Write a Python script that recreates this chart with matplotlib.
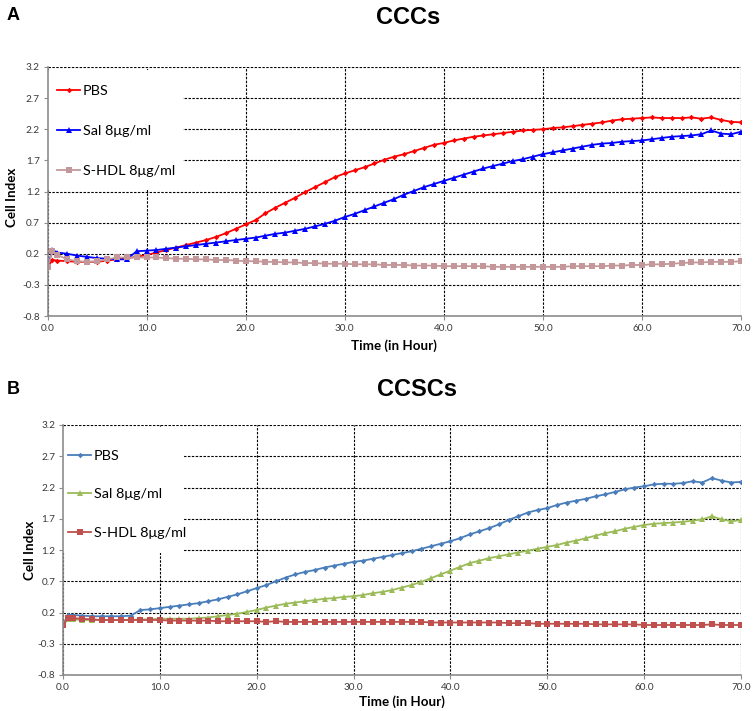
import matplotlib
matplotlib.use("Agg")
import matplotlib.pyplot as plt
from matplotlib.patches import Rectangle

# ---------------- data ----------------
time_h = [0, 0.5] + list(range(1, 71))

xticks = [0, 10, 20, 30, 40, 50, 60, 70]
xtick_labels = ["0.0", "10.0", "20.0", "30.0", "40.0", "50.0", "60.0", "70.0"]
yticks = [-0.8, -0.3, 0.2, 0.7, 1.2, 1.7, 2.2, 2.7, 3.2]
ytick_labels = ["-0.8", "-0.3", "0.2", "0.7", "1.2", "1.7", "2.2", "2.7", "3.2"]

series_labels = ["PBS", "Sal 8μg/ml", "S-HDL 8μg/ml"]

# Panel A : CCCs
ccc_pbs = [-0.02, 0.10,
           0.09, 0.08, 0.07, 0.07, 0.07, 0.09, 0.11, 0.13, 0.15, 0.18,
           0.22, 0.26, 0.30, 0.34, 0.38, 0.42, 0.47, 0.53, 0.60, 0.67,
           0.74, 0.85, 0.94, 1.02, 1.10, 1.19, 1.27, 1.35, 1.43, 1.49,
           1.54, 1.59, 1.65, 1.71, 1.76, 1.80, 1.85, 1.90, 1.95, 1.98,
           2.02, 2.05, 2.08, 2.10, 2.12, 2.14, 2.16, 2.18, 2.19, 2.20,
           2.22, 2.23, 2.25, 2.27, 2.29, 2.31, 2.34, 2.36, 2.37, 2.38,
           2.39, 2.38, 2.38, 2.38, 2.39, 2.37, 2.39, 2.35, 2.32, 2.31]
ccc_sal = [-0.02, 0.26,
           0.22, 0.20, 0.17, 0.15, 0.13, 0.12, 0.11, 0.11, 0.24, 0.25,
           0.26, 0.28, 0.30, 0.32, 0.34, 0.36, 0.38, 0.40, 0.42, 0.44,
           0.46, 0.49, 0.52, 0.54, 0.57, 0.60, 0.64, 0.68, 0.73, 0.79,
           0.84, 0.90, 0.96, 1.02, 1.08, 1.15, 1.21, 1.27, 1.32, 1.37,
           1.42, 1.47, 1.52, 1.57, 1.61, 1.65, 1.69, 1.72, 1.76, 1.80,
           1.83, 1.86, 1.89, 1.92, 1.95, 1.97, 1.98, 2.00, 2.01, 2.02,
           2.04, 2.06, 2.08, 2.09, 2.10, 2.12, 2.18, 2.13, 2.12, 2.16]
ccc_shdl = [-0.02, 0.24,
            0.18, 0.11, 0.08, 0.07, 0.08, 0.11, 0.14, 0.14, 0.14, 0.14,
            0.14, 0.13, 0.12, 0.12, 0.11, 0.11, 0.10, 0.10, 0.09, 0.08,
            0.08, 0.07, 0.07, 0.06, 0.06, 0.05, 0.05, 0.04, 0.04, 0.04,
            0.03, 0.03, 0.03, 0.02, 0.02, 0.02, 0.01, 0.01, 0.01, 0.00,
            0.00, 0.00, 0.00, 0.00, -0.01, -0.01, -0.01, -0.01, -0.01, -0.01,
            -0.01, -0.01, 0.00, 0.00, 0.00, 0.00, 0.01, 0.01, 0.02, 0.02,
            0.03, 0.03, 0.04, 0.05, 0.06, 0.06, 0.07, 0.07, 0.07, 0.08]

# Panel B : CCSCs
ccsc_pbs = [0.00, 0.16,
            0.16, 0.15, 0.14, 0.14, 0.14, 0.14, 0.15, 0.24, 0.25, 0.27,
            0.29, 0.31, 0.33, 0.35, 0.38, 0.41, 0.45, 0.49, 0.54, 0.59,
            0.64, 0.70, 0.76, 0.81, 0.85, 0.88, 0.92, 0.95, 0.98, 1.01,
            1.03, 1.06, 1.09, 1.12, 1.15, 1.18, 1.22, 1.26, 1.30, 1.34,
            1.39, 1.45, 1.50, 1.55, 1.61, 1.68, 1.74, 1.80, 1.84, 1.87,
            1.92, 1.96, 1.99, 2.02, 2.06, 2.09, 2.13, 2.17, 2.20, 2.22,
            2.25, 2.26, 2.26, 2.27, 2.30, 2.28, 2.35, 2.31, 2.28, 2.29]
ccsc_sal = [0.00, 0.09,
            0.09, 0.08, 0.08, 0.08, 0.08, 0.08, 0.08, 0.09, 0.09, 0.10,
            0.10, 0.10, 0.10, 0.11, 0.12, 0.14, 0.16, 0.18, 0.21, 0.24,
            0.28, 0.31, 0.34, 0.36, 0.38, 0.40, 0.42, 0.43, 0.45, 0.46,
            0.48, 0.51, 0.53, 0.56, 0.60, 0.64, 0.69, 0.75, 0.81, 0.87,
            0.93, 0.99, 1.03, 1.07, 1.10, 1.13, 1.16, 1.19, 1.22, 1.25,
            1.28, 1.32, 1.35, 1.39, 1.43, 1.47, 1.50, 1.54, 1.57, 1.60,
            1.62, 1.63, 1.64, 1.65, 1.67, 1.69, 1.74, 1.69, 1.66, 1.68]
ccsc_shdl = [0.00, 0.11,
             0.11, 0.10, 0.09, 0.08, 0.08, 0.08, 0.08, 0.08, 0.08, 0.08,
             0.07, 0.07, 0.07, 0.07, 0.07, 0.06, 0.06, 0.06, 0.06, 0.06,
             0.05, 0.06, 0.05, 0.05, 0.05, 0.05, 0.05, 0.05, 0.05, 0.05,
             0.05, 0.05, 0.05, 0.05, 0.05, 0.05, 0.05, 0.04, 0.04, 0.04,
             0.04, 0.04, 0.04, 0.04, 0.04, 0.03, 0.03, 0.03, 0.02, 0.02,
             0.02, 0.02, 0.02, 0.02, 0.01, 0.01, 0.01, 0.01, 0.01, 0.00,
             0.00, 0.00, 0.00, 0.00, 0.00, 0.00, 0.01, 0.00, 0.00, 0.00]

# ---------------- figure ----------------
W, H = 753, 711
fig = plt.figure(figsize=(W / 100, H / 100), dpi=100)

sans = ["Lato", "DejaVu Sans"]
bold_title = ["Liberation Sans", "DejaVu Sans"]


def px_axes(left, top, right, bottom):
    return [left / W, 1 - bottom / H, (right - left) / W, (bottom - top) / H]


axA = fig.add_axes(px_axes(47.5, 67, 741, 316))
axB = fig.add_axes(px_axes(63, 425, 741, 675))


def style(ax, rect_w, rect_y0):
    ax.set_xlim(0, 70)
    ax.set_ylim(-0.8, 3.2)
    ax.set_xticks(xticks)
    ax.set_xticklabels(xtick_labels, family=sans)
    ax.set_yticks(yticks)
    ax.set_yticklabels(ytick_labels, family=sans)
    ax.set_axisbelow(True)
    ax.grid(True, color="black", lw=0.8, ls=(0, (2.2, 1.3)))
    for s in ("top", "right"):
        ax.spines[s].set_visible(False)
    for s in ("left", "bottom"):
        ax.spines[s].set_color("#8c8c8c")
        ax.spines[s].set_linewidth(1.2)
    ax.tick_params(direction="out", length=3, width=0.8, color="#8c8c8c",
                   labelsize=7.2, labelcolor="#3a3a3a", pad=2.5)
    ax.add_patch(Rectangle((0, rect_y0), rect_w, 0.988 - rect_y0,
                           transform=ax.transAxes, facecolor="white",
                           edgecolor="none", zorder=1))
    ax.set_xlabel("Time (in Hour)", family=sans, fontsize=9.6,
                  fontweight="bold")
    ax.set_ylabel("Cell Index", family=sans, fontsize=9.6, fontweight="bold")


LW = 1.3

# Panel A
style(axA, (183 - 47.5) / 693.5, (1.23 + 0.8) / 4)
axA.plot(time_h, ccc_pbs, color="#ff0000", lw=LW, marker="D", ms=2.8,
         mew=0, label=series_labels[0])
axA.plot(time_h, ccc_sal, color="#0000ff", lw=LW, marker="^", ms=3.8,
         mew=0, label=series_labels[1])
axA.plot(time_h, ccc_shdl, color="#c4989a", lw=LW, marker="s", ms=4.0,
         mew=0, label=series_labels[2])
axA.xaxis.set_label_coords(0.5, -0.094)
axA.yaxis.set_label_coords(-0.0425, 0.475)
axA.legend(loc="upper left", bbox_to_anchor=(0.0137, 0.929), frameon=False,
           prop={"family": sans, "size": 10.4}, labelspacing=1.95,
           handlelength=1.6, handletextpad=0.2, borderpad=0,
           borderaxespad=0, numpoints=1)

# Panel B
style(axB, (183 - 63) / 678, (1.15 + 0.8) / 4)
axB.plot(time_h, ccsc_pbs, color="#4a7ebb", lw=LW, marker="D", ms=2.8,
         mew=0, label=series_labels[0])
axB.plot(time_h, ccsc_sal, color="#9bbb59", lw=LW, marker="^", ms=3.8,
         mew=0, label=series_labels[1])
axB.plot(time_h, ccsc_shdl, color="#c0504d", lw=LW, marker="s", ms=4.2,
         mew=0, label=series_labels[2])
axB.xaxis.set_label_coords(0.5, -0.082)
axB.yaxis.set_label_coords(-0.040, 0.5)
axB.legend(loc="upper left", bbox_to_anchor=(0.0074, 0.899), frameon=False,
           prop={"family": sans, "size": 10.4}, labelspacing=1.8,
           handlelength=1.6, handletextpad=0.2, borderpad=0,
           borderaxespad=0, numpoints=1)

# Titles and panel letters
fig.text(408 / W, 1 - 17 / H, "CCCs", family=bold_title, fontsize=17,
         fontweight="bold", ha="center", va="center")
fig.text(417 / W, 1 - 389 / H, "CCSCs", family=bold_title, fontsize=17,
         fontweight="bold", ha="center", va="center")
fig.text(13 / W, 1 - 16 / H, "A", family=bold_title, fontsize=13,
         fontweight="bold", ha="center", va="center")
fig.text(13 / W, 1 - 389 / H, "B", family=bold_title, fontsize=13,
         fontweight="bold", ha="center", va="center")

fig.savefig("out.png", dpi=100)
